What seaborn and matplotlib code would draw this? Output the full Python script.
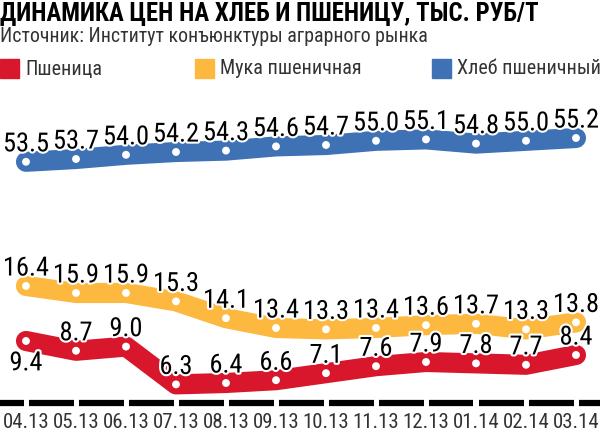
import matplotlib
matplotlib.use("Agg")
import matplotlib.pyplot as plt
import matplotlib.patheffects as pe
from matplotlib import font_manager
import seaborn as sns
import pandas as pd

# ---- data ----
months = ["04.13", "05.13", "06.13", "07.13", "08.13", "09.13",
          "10.13", "11.13", "12.13", "01.14", "02.14", "03.14"]
wheat = [9.4, 8.7, 9.0, 6.3, 6.4, 6.6, 7.1, 7.6, 7.9, 7.8, 7.7, 8.4]
flour = [16.4, 15.9, 15.9, 15.3, 14.1, 13.4, 13.3, 13.4, 13.6, 13.7, 13.3, 13.8]
bread = [53.5, 53.7, 54.0, 54.2, 54.3, 54.6, 54.7, 55.0, 55.1, 54.8, 55.0, 55.2]
series_names = ["Пшеница", "Мука пшеничная", "Хлеб пшеничный"]
title = "ДИНАМИКА ЦЕН НА ХЛЕБ И ПШЕНИЦУ, ТЫС. РУБ/Т"
subtitle = "Источник: Институт конъюнктуры аграрного рынка"

# ---- style ----
sns.set_style("white")
avail = {f.name for f in font_manager.fontManager.ttflist}
FONT = next((f for f in ["Liberation Sans Narrow", "Roboto Condensed", "DejaVu Sans"] if f in avail), "DejaVu Sans")
plt.rcParams["font.family"] = [FONT, "DejaVu Sans"]

RED, YELLOW, BLUE = "#D8172C", "#FDB83F", "#3F72B5"
colors = [RED, YELLOW, BLUE]

fig = plt.figure(figsize=(6, 4.33), dpi=100)
rect = [0, 30 / 433, 1, 293 / 433]
# same vertical scale for each series, broken axis (different offsets)
ylims = [(4.97, 25.9), (8.04, 28.97), (36.27, 57.2)]
label_below = [[0], [], []]

df = pd.DataFrame({"month": months, "i": range(len(months)),
                   series_names[0]: wheat, series_names[1]: flour, series_names[2]: bread})

axes = []
for k, name in enumerate(series_names):
    ax = fig.add_axes(rect, label=name)
    ax.patch.set_alpha(0)
    sns.lineplot(data=df, x="i", y=name, ax=ax, color=colors[k], lw=14.5,
                 solid_capstyle="round", solid_joinstyle="round", zorder=2)
    sns.scatterplot(data=df, x="i", y=name, ax=ax, color="white", s=32,
                    edgecolor="none", zorder=3)
    ax.set_xlim(-0.52, len(months) - 0.52)
    ax.set_ylim(*ylims[k])
    ax.axis("off")
    axes.append(ax)

top = axes[-1]
halo = [pe.withStroke(linewidth=3, foreground="white")]
for k, name in enumerate(series_names):
    for i, v in enumerate(df[name]):
        below = i in label_below[k]
        top.annotate(f"{v:.1f}", xy=(i, v), xycoords=axes[k].transData,
                     xytext=(0, -7.5 if below else 7.5), textcoords="offset points",
                     ha="center", va="top" if below else "baseline",
                     fontsize=19, color="black", path_effects=halo,
                     annotation_clip=False, zorder=10)

# broken baseline bars and month labels
base = axes[0]
tr = base.get_xaxis_transform()
n = len(months)
gap = 0.05
edges = [-0.52] + [i for i in range(n)] + [n - 0.52]
for a, b in zip(edges[:-1], edges[1:]):
    base.plot([a + (gap if a > -0.5 else 0), b - (gap if b < n - 0.52 else 0)], [0, 0],
              transform=tr, color="black", lw=4.5, solid_capstyle="butt", clip_on=False)
for i, m in enumerate(months):
    base.text(i, -0.035, m, transform=tr, ha="center", va="top", fontsize=15,
              color="#333333", clip_on=False)

# title / subtitle
fig.text(0.0, 1 - 2 / 433, title, ha="left", va="top", fontsize=17.8, fontweight="bold", color="black")
fig.text(0.0, 1 - 27 / 433, subtitle, ha="left", va="top", fontsize=14.3, color="#333333")

# legend
leg_x = [0, 195, 432]
for k, name in enumerate(series_names):
    x0 = leg_x[k] / 600
    fig.patches.append(plt.Rectangle((x0, 1 - 78 / 433), 19 / 600, 19 / 433,
                                     transform=fig.transFigure, color=colors[k]))
    fig.text(x0 + 25 / 600, 1 - 69 / 433, name, ha="left", va="center",
             fontsize=14.5, color="#333333")

fig.savefig("out.png", dpi=100)
